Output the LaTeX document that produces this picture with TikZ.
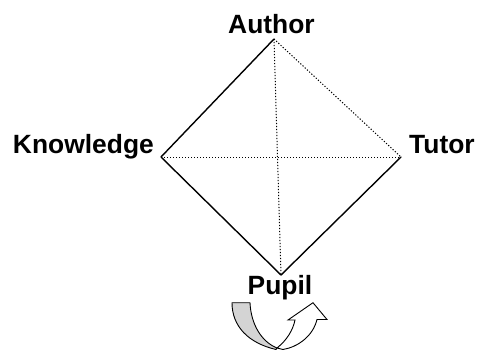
\documentclass[tikz,border=0pt]{standalone}
\usepackage{fontspec}
\setmainfont{Liberation Sans}
\begin{document}
\begin{tikzpicture}[x=1pt,y=-1pt,
  lbl/.style={inner sep=0pt,font=\fontsize{26.4}{30}\selectfont\bfseries},
  solidedge/.style={line width=1.4pt,line cap=round,line join=round},
  dotedge/.style={line width=1pt,dash pattern=on 1.2pt off 1.8pt},
  arr/.style={line width=0.9pt,line join=miter}]
\useasboundingbox (0,0) rectangle (477,349);
\coordinate (A) at (274,39);
\coordinate (K) at (161,157);
\coordinate (T) at (401,157);
\coordinate (P) at (281,275);
\node[lbl,anchor=base] (la) at (271.5,33) {Author};
\node[lbl,anchor=base east] (lk) at (154,153) {Knowledge};
\node[lbl,anchor=base west] (lt) at (409,153) {Tutor};
\node[lbl,anchor=base] (lp) at (280,294) {Pupil};
\draw[dotedge] (A) -- (T);
\draw[dotedge] (K) -- (T);
\draw[dotedge] (A) -- (P);
\draw[solidedge] (A) -- (K) -- (P) -- (T);
\draw[arr,fill={rgb,255:red,212;green,212;blue,212}] (232,302.7) -- (250,302.7)
  .. controls (251,325) and (262,342) .. (277,348)
  -- (276,349.5)
  .. controls (248,343) and (232,326) .. (232,302.7) -- cycle;
\draw[arr,fill=white] (277,348) .. controls (287,340) and (293,330) .. (295,320)
  -- (288,320) -- (313,302.7) -- (327,319.5) -- (317,319.5)
  .. controls (313,336) and (298,347) .. (283,349.5) -- cycle;
\end{tikzpicture}
\end{document}
